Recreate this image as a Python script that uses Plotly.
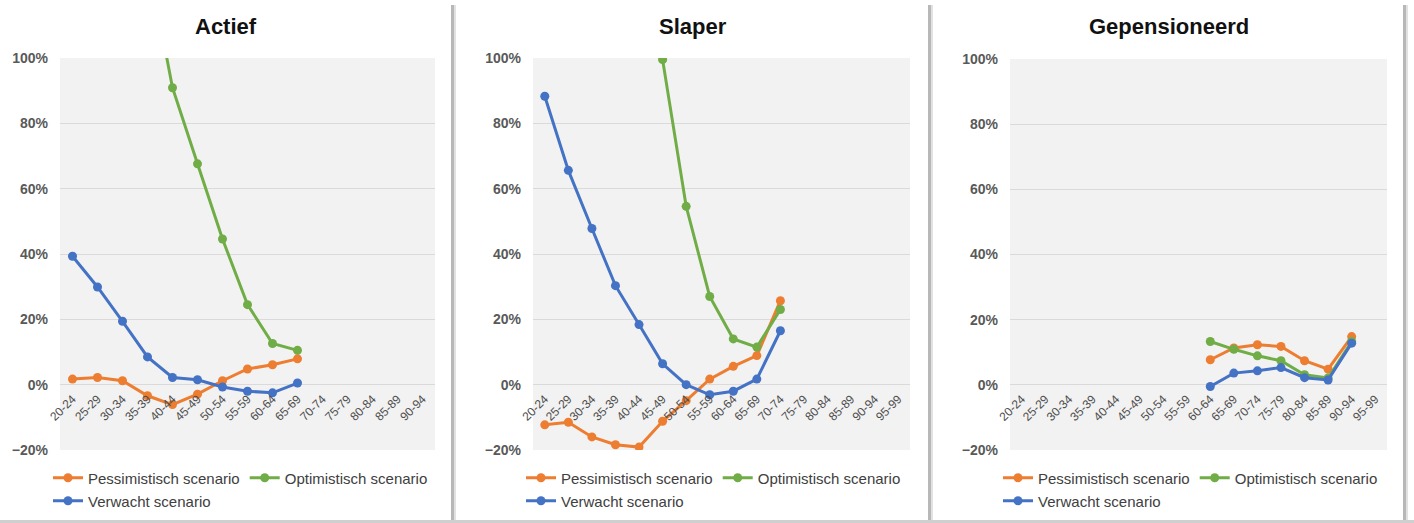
import plotly.graph_objects as go

# Age bands on the category axis
ages_actief = ["20-24", "25-29", "30-34", "35-39", "40-44", "45-49", "50-54", "55-59",
               "60-64", "65-69", "70-74", "75-79", "80-84", "85-89", "90-94"]
ages_slaper = ages_actief + ["95-99"]
ages_gepensioneerd = ages_actief + ["95-99"]

# Actief (%)
actief_pess = [1.7, 2.2, 1.2, -3.4, -6.1, -2.9, 1.2, 4.8, 6.1, 7.9, None, None, None, None, None]
actief_opt = [None, None, None, 131.0, 90.9, 67.6, 44.6, 24.5, 12.6, 10.5, None, None, None, None, None]
actief_verw = [39.3, 29.9, 19.4, 8.5, 2.2, 1.5, -0.7, -2.0, -2.5, 0.5, None, None, None, None, None]

# Slaper (%)
slaper_pess = [-12.3, -11.5, -16.0, -18.4, -19.1, -11.2, -4.9, 1.7, 5.6, 8.9, 25.7,
               None, None, None, None, None]
slaper_opt = [None, None, None, None, None, 99.5, 54.6, 27.0, 14.0, 11.5, 23.0,
              None, None, None, None, None]
slaper_verw = [88.3, 65.6, 47.8, 30.3, 18.4, 6.4, 0.0, -3.1, -2.0, 1.7, 16.5,
               None, None, None, None, None]

# Gepensioneerd (%)
gep_pess = [None] * 8 + [7.7, 11.3, 12.3, 11.8, 7.4, 4.8, 14.8, None]
gep_opt = [None] * 8 + [13.3, 10.9, 8.9, 7.4, 3.1, 2.1, 13.3, None]
gep_verw = [None] * 8 + [-0.5, 3.6, 4.3, 5.3, 2.2, 1.5, 12.8, None]

series_names = ["Pessimistisch scenario", "Optimistisch scenario", "Verwacht scenario"]
colors = ["#ED7D31", "#70AD47", "#4472C4"]

W, H = 1414, 523
FONT = "Liberation Sans, Arial, sans-serif"

panels = [
    dict(title="Actief", ages=ages_actief, data=[actief_pess, actief_opt, actief_verw],
         px=(60, 435), py=(58, 450), card=(0, 451)),
    dict(title="Slaper", ages=ages_slaper, data=[slaper_pess, slaper_opt, slaper_verw],
         px=(533, 910), py=(58, 450), card=(458, 928)),
    dict(title="Gepensioneerd", ages=ages_gepensioneerd, data=[gep_pess, gep_opt, gep_verw],
         px=(1010, 1387), py=(59, 450), card=(934, 1403)),
]

fig = go.Figure()
layout = dict(
    width=W, height=H,
    margin=dict(l=0, r=0, t=0, b=0, autoexpand=False),
    paper_bgcolor="white",
    plot_bgcolor="#F2F2F2",
    showlegend=True,
    annotations=[],
    shapes=[],
)

YMIN, YMAX = -20, 100

for i, p in enumerate(panels):
    n = i + 1
    xa = "x" if n == 1 else f"x{n}"
    ya = "y" if n == 1 else f"y{n}"
    x0, x1 = p["px"][0] / W, p["px"][1] / W
    y1, y0 = 1 - p["py"][0] / H, 1 - p["py"][1] / H
    zero_pos = y0 + (0 - YMIN) / (YMAX - YMIN) * (y1 - y0)

    leg_a = f"legend{2 * i + 1}" if i > 0 else "legend"
    leg_b = f"legend{2 * i + 2}"

    for k, (name, vals, col) in enumerate(zip(series_names, p["data"], colors)):
        fig.add_trace(go.Scatter(
            x=p["ages"], y=vals, name=name, mode="lines+markers",
            line=dict(color=col, width=3),
            marker=dict(color=col, size=9),
            xaxis=xa, yaxis=ya,
            legend=leg_a if k < 2 else leg_b,
            connectgaps=False, cliponaxis=True,
        ))

    layout["xaxis" if n == 1 else f"xaxis{n}"] = dict(
        domain=[x0, x1], anchor="free", position=zero_pos,
        type="category", categoryorder="array", categoryarray=p["ages"],
        range=[-0.5, len(p["ages"]) - 0.5],
        showgrid=False, showline=False, zeroline=False, ticks="",
        tickangle=-45, ticklabelstandoff=4,
        tickfont=dict(family=FONT, size=12, color="#4D4D4D"),
        fixedrange=True,
    )
    layout["yaxis" if n == 1 else f"yaxis{n}"] = dict(
        domain=[y0, y1], anchor=xa, range=[YMIN, YMAX], dtick=20,
        ticksuffix="%", showgrid=True, gridcolor="#DADADA", gridwidth=1,
        zeroline=False, showline=False, ticks="", ticklabelstandoff=11,
        tickfont=dict(family=FONT, size=14, color="#595959", weight="bold"),
        fixedrange=True,
    )

    cx = (p["card"][0] + p["card"][1]) / 2 / W
    layout["annotations"].append(dict(
        text=f"<b>{p['title']}</b>", xref="paper", yref="paper",
        x=cx, y=1 - 27 / H, xanchor="center", yanchor="middle", showarrow=False,
        font=dict(family=FONT, size=22, color="#111111"),
    ))

    leg_x = (p["px"][0] - 12) / W
    for key, ypix in ((leg_a, 478), (leg_b, 501)):
        layout[key] = dict(
            orientation="h", x=leg_x, xanchor="left",
            y=1 - ypix / H, yanchor="middle",
            bgcolor="rgba(0,0,0,0)", borderwidth=0,
            font=dict(family=FONT, size=15, color="#404040"),
            itemclick=False, itemdoubleclick=False,
        )

    # card shadow on the right edge
    sx = p["card"][1]
    layout["shapes"].append(dict(
        type="rect", xref="paper", yref="paper",
        x0=sx / W, x1=(sx + 3) / W, y0=0, y1=1 - 5 / H,
        fillcolor="#B8B8B8", line=dict(width=0), layer="above",
    ))
    layout["shapes"].append(dict(
        type="rect", xref="paper", yref="paper",
        x0=(sx + 3) / W, x1=(sx + 5) / W, y0=0, y1=1 - 5 / H,
        fillcolor="#E2E2E2", line=dict(width=0), layer="above",
    ))

# bottom edge of the cards
layout["shapes"].append(dict(
    type="rect", xref="paper", yref="paper",
    x0=0, x1=1, y0=0, y1=3 / H,
    fillcolor="#CFCFCF", line=dict(width=0), layer="above",
))

fig.update_layout(**layout)
fig.write_html("out.html")
